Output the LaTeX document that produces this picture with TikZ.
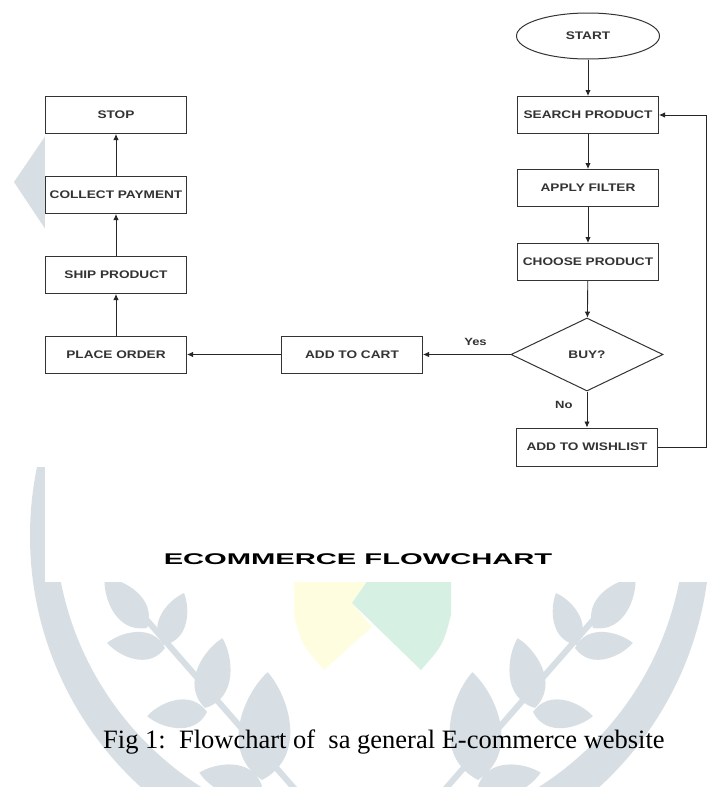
\documentclass[tikz,border=0pt]{standalone}
\usepackage{fontspec}
\setmainfont{Liberation Serif}
\newfontfamily\flowfont[FakeStretch=1.24]{Liberation Sans}
\newfontfamily\titlefont[FakeStretch=1.88]{Liberation Sans}
\usetikzlibrary{shapes.geometric, arrows.meta}

\definecolor{wmark}{RGB}{216,223,228}
\definecolor{wyellow}{RGB}{255,253,224}
\definecolor{wgreen}{RGB}{214,240,228}

\tikzset{
  flowbox/.style={draw=black!80, line width=1pt, minimum width=141pt, minimum height=37pt,
    inner sep=0pt, text=black!80, font=\flowfont\bfseries\fontsize{11}{13}\selectfont},
  flowarrow/.style={-{Latex[length=6pt, width=5.5pt]}, line width=0.9pt, draw=black!85},
  flowlabel/.style={inner sep=0pt, text=black!80, font=\flowfont\bfseries\fontsize{10.5}{12}\selectfont}
}

% one leaf of the watermark: base x, base y, angle, length
\newcommand{\wleaf}[4]{%
  \fill[wmark, shift={(#1,#2)}, rotate=#3]
    (0,0) .. controls (0.25*#4, 0.42*#4) and (0.8*#4, 0.2*#4) .. (#4,0)
          .. controls (0.8*#4, -0.2*#4) and (0.25*#4, -0.42*#4) .. (0,0);}

\begin{document}
\begin{tikzpicture}[x=1pt, y=-1pt]
\useasboundingbox (0,0) rectangle (714,787);
\fill[white] (0,0) rectangle (714,787);

%% Watermark
\begin{scope}
  \clip (0,467) rectangle (714,787);
  \fill[wmark, even odd rule] (370,536) circle (340) (370,521) circle (315);
\end{scope}
\fill[wmark] (46,135) -- (14,182) -- (46,230) -- cycle;

\foreach \side in {0,1}{
  \begin{scope}[shift={(\side*740,0)}, xscale={1-2*\side}]
    \draw[wmark, line width=6pt] (138,610) -- (300,795);
    \wleaf{147}{628}{130}{66}
    \wleaf{163}{645}{68}{56}
    \wleaf{165}{648}{175}{58}
    \wleaf{205}{708}{76}{72}
    \wleaf{207}{712}{184}{60}
    \wleaf{262}{780}{87}{108}
    \wleaf{262}{786}{168}{64}
  \end{scope}
}

\fill[wyellow] (294,575) -- (366,575) -- (366,583) -- (352,603) -- (372,627) -- (324,670)
  .. controls (302,645) .. (294,615) -- cycle;
\fill[wgreen] (366,575) -- (451,575) -- (451,615) .. controls (443,645) .. (421,670)
  -- (352,603) -- (366,583) -- cycle;

% white sheet of the flowchart
\fill[white] (45,0) rectangle (714,582);

%% Right column
\draw (588,36) node[flowbox, ellipse, minimum width=143pt, minimum height=46pt] (start-node) {START};
\draw (588,115) node[flowbox] (search-node) {SEARCH PRODUCT};
\draw (588,188) node[flowbox] (filter-node) {APPLY FILTER};
\draw (588,262) node[flowbox] (choose-node) {CHOOSE PRODUCT};
\draw (587,354.5) node[flowbox, diamond, minimum width=152pt, minimum height=73pt] (buy-node) {BUY?};
\draw (587,447) node[flowbox, minimum height=38pt] (wish-node) {ADD TO WISHLIST};
\coordinate (loop-corner) at (706,447);

%% Bottom row and left column
\draw (352,354.5) node[flowbox] (cart-node) {ADD TO CART};
\draw (116,354.5) node[flowbox] (order-node) {PLACE ORDER};
\draw (116,275) node[flowbox] (ship-node) {SHIP PRODUCT};
\draw (116,195) node[flowbox] (pay-node) {COLLECT PAYMENT};
\draw (116,115) node[flowbox] (stop-node) {STOP};

% Arrows
\draw[flowarrow] (start-node) -- (search-node);
\draw[flowarrow] (search-node) -- (filter-node);
\draw[flowarrow] (filter-node) -- (choose-node);
\draw[flowarrow] (choose-node) -- (buy-node);
\draw[flowarrow] (buy-node) -- node[flowlabel, pos=0.4, above=8pt] (yes-label) {Yes} (cart-node);
\draw[flowarrow] (buy-node) -- node[flowlabel, pos=0.38, left=14pt] (no-label) {No} (wish-node);
\draw[flowarrow] (wish-node) -- (loop-corner) |- (search-node);
\draw[flowarrow] (cart-node) -- (order-node);
\draw[flowarrow] (order-node) -- (ship-node);
\draw[flowarrow] (ship-node) -- (pay-node);
\draw[flowarrow] (pay-node) -- (stop-node);

%% Titles
\draw (358,564) node[anchor=base, inner sep=0pt, font=\titlefont\bfseries\fontsize{15.5}{18}\selectfont] (title-node) {ECOMMERCE FLOWCHART};
\draw (103,748) node[anchor=base west, inner sep=0pt, font=\frenchspacing\fontsize{26.5}{30}\selectfont] (caption-node) {Fig 1:\ \ Flowchart of\ \ sa general E-commerce website};
\end{tikzpicture}
\end{document}
